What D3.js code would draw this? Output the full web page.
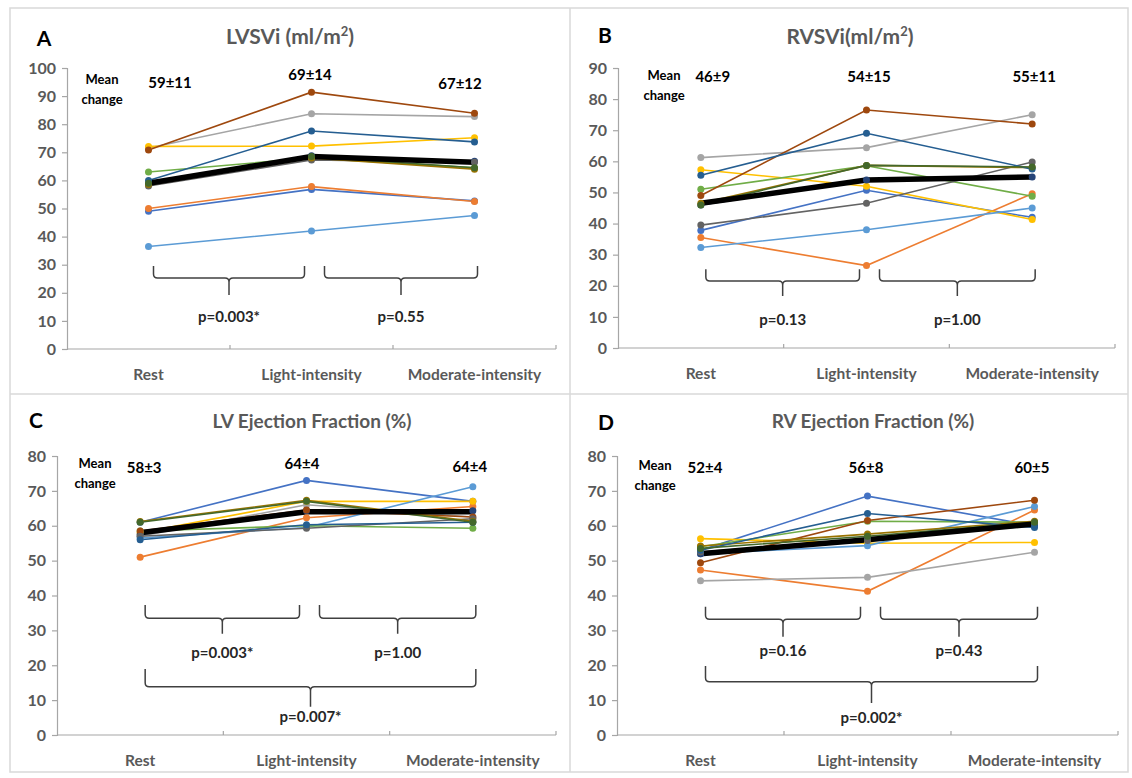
<!DOCTYPE html>
<html>
<head>
<meta charset="utf-8">
<script src="https://cdn.jsdelivr.net/npm/d3@7/dist/d3.min.js"></script>
<style>
  body { margin: 0; background: #fff; }
  svg { display: block; }
  text { font-family: Lato, "Open Sans", sans-serif; }
</style>
</head>
<body>
<div id="chart"></div>
<script>
// Categories and series colours (Excel default palette order)
const categories = ["Rest", "Light-intensity", "Moderate-intensity"];
const seriesColors = [
  "#4472C4", "#ED7D31", "#A5A5A5", "#FFC000", "#5B9BD5", "#70AD47",
  "#264478", "#9E480E", "#636363", "#997300", "#255E91", "#43682B",
];

// Panel A: LVSVi (ml/m2), one row per subject
const lvsviSubjects = [
  [49, 56.8, 52.7],
  [50, 57.8, 52.5],
  [71.5, 83.7, 82.7],
  [72.1, 72.2, 75.2],
  [36.5, 42, 47.5],
  [63, 68, 64.5],
  [58.5, 68.8, 66.8],
  [70.8, 91.4, 83.9],
  [58, 67.3, 66.5],
  [58.5, 68, 64],
  [60, 77.6, 73.7],
  [59, 68.5, 64.5],
];
const lvsviMean = [59, 68.5, 66.5];
const lvsviMeanLabels = ["59±11", "69±14", "67±12"];
const lvsviPValues = ["p=0.003*", "p=0.55"];

// Panel B: RVSVi (ml/m2)
const rvsviSubjects = [
  [37.8, 50.7, 42],
  [35.5, 26.5, 49.6],
  [61.2, 64.4, 75],
  [57.3, 52, 41.3],
  [32.3, 38, 45],
  [51, 58.6, 48.8],
  [46, 54, 55],
  [49, 76.5, 72],
  [39.5, 46.5, 59.8],
  [46.5, 58.7, 58],
  [55.5, 69, 57.5],
  [46, 58.7, 58.2],
];
const rvsviMean = [46.5, 54, 55];
const rvsviMeanLabels = ["46±9", "54±15", "55±11"];
const rvsviPValues = ["p=0.13", "p=1.00"];

// Panel C: LV Ejection Fraction (%)
const lvefSubjects = [
  [61, 73, 67],
  [51, 62.3, 65.5],
  [57, 66, 62.5],
  [58, 67, 67],
  [56.5, 59.5, 71.2],
  [58.5, 60, 59.3],
  [57.5, 64.3, 64.3],
  [58.5, 64.5, 62.5],
  [57, 59.3, 62],
  [61.2, 67.3, 61.3],
  [56, 60.3, 61],
  [61, 67, 61],
];
const lvefMean = [58, 64, 64];
const lvefMeanLabels = ["58±3", "64±4", "64±4"];
const lvefPValues = ["p=0.003*", "p=1.00", "p=0.007*"];

// Panel D: RV Ejection Fraction (%)
const rvefSubjects = [
  [53, 68.5, 60],
  [47.3, 41.2, 64.5],
  [44.2, 45.2, 52.4],
  [56.3, 55, 55.2],
  [52, 54.3, 65.5],
  [54, 61.3, 61],
  [52, 56.4, 60],
  [49.4, 61.5, 67.3],
  [52.5, 55.8, 61],
  [54.2, 57.6, 61.3],
  [53, 63.5, 59.5],
  [53.5, 57, 61],
];
const rvefMean = [52, 56, 60.5];
const rvefMeanLabels = ["52±4", "56±8", "60±5"];
const rvefPValues = ["p=0.16", "p=0.43", "p=0.002*"];

const width = 1132;
const height = 778;
const axisColor = "#A6A6A6";
const labelColor = "#595959";

const svg = d3
  .select("#chart")
  .append("svg")
  .attr("width", width)
  .attr("height", height);

// Panel frames
const frame = svg.append("g").attr("fill", "none").attr("stroke", "#D9D9D9").attr("stroke-width", 1.5);
frame.append("rect").attr("x", 10).attr("y", 8).attr("width", 1118).attr("height", 764);
frame.append("line").attr("x1", 570).attr("x2", 570).attr("y1", 8).attr("y2", 772);
frame.append("line").attr("x1", 10).attr("x2", 1128).attr("y1", 394).attr("y2", 394);

function bracketPath(x0, x1, yTop, yH, yNub) {
  const xm = (x0 + x1) / 2;
  const r = 4;
  return (
    `M${x0},${yTop} L${x0},${yH - r} Q${x0},${yH} ${x0 + r},${yH} ` +
    `L${xm - r},${yH} Q${xm},${yH} ${xm},${yH + r} L${xm},${yNub} ` +
    `M${xm},${yH + r} Q${xm},${yH} ${xm + r},${yH} ` +
    `L${x1 - r},${yH} Q${x1},${yH} ${x1},${yH - r} L${x1},${yTop}`
  );
}

function drawPanel(cfg) {
  const g = svg.append("g");

  const x = d3.scaleBand().domain(categories).range([cfg.left, cfg.right]);
  const y = d3.scaleLinear().domain([0, cfg.yMax]).range([cfg.bottom, cfg.top]);
  const cx = (i) => x(categories[i]) + x.bandwidth() / 2;

  // Y axis
  const yAxis = g
    .append("g")
    .attr("transform", `translate(${cfg.left},0)`)
    .call(d3.axisLeft(y).tickValues(d3.range(0, cfg.yMax + 1, 10)).tickSize(5).tickPadding(6));
  yAxis.select(".domain").attr("stroke", axisColor).attr("stroke-width", 1.2);
  yAxis.selectAll(".tick line").attr("stroke", axisColor).attr("stroke-width", 1.2);
  yAxis
    .selectAll(".tick text")
    .attr("fill", labelColor)
    .style("font-size", "16px")
    .style("font-weight", "bold")
    .style("font-family", "Lato, sans-serif");

  // X axis: baseline with inner ticks at category boundaries
  g.append("line")
    .attr("x1", cfg.left).attr("x2", cfg.right)
    .attr("y1", y(0)).attr("y2", y(0))
    .attr("stroke", axisColor).attr("stroke-width", 1.2);
  g.selectAll("line.xtick")
    .data(categories)
    .join("line")
    .attr("class", "xtick")
    .attr("x1", (d) => x(d) + x.bandwidth())
    .attr("x2", (d) => x(d) + x.bandwidth())
    .attr("y1", y(0))
    .attr("y2", y(0) - 4)
    .attr("stroke", axisColor).attr("stroke-width", 1.2);
  g.selectAll("text.xlabel")
    .data(categories)
    .join("text")
    .attr("class", "xlabel")
    .attr("x", (d) => x(d) + x.bandwidth() / 2)
    .attr("y", y(0) + 31)
    .attr("text-anchor", "middle")
    .attr("fill", labelColor)
    .style("font-size", "15.5px")
    .style("font-weight", "bold")
    .text((d) => d);

  // Lines
  const line = d3
    .line()
    .x((d, i) => cx(i))
    .y((d) => y(d));
  g.selectAll("path.subject")
    .data(cfg.subjects)
    .join("path")
    .attr("class", "subject")
    .attr("d", (d) => line(d))
    .attr("fill", "none")
    .attr("stroke", (d, i) => seriesColors[i])
    .attr("stroke-width", 1.6);

  g.append("path")
    .attr("d", line(cfg.mean))
    .attr("fill", "none")
    .attr("stroke", "#000")
    .attr("stroke-width", 5.5)
    .attr("stroke-linejoin", "round");

  // Markers
  cfg.subjects.forEach((s, si) => {
    g.selectAll(null)
      .data(s)
      .join("circle")
      .attr("cx", (d, i) => cx(i))
      .attr("cy", (d) => y(d))
      .attr("r", 3.5)
      .attr("fill", seriesColors[si]);
  });

  // Title and panel letter
  const title = g
    .append("text")
    .attr("x", cfg.titleX)
    .attr("y", cfg.titleY)
    .attr("text-anchor", "middle")
    .attr("fill", labelColor)
    .style("font-size", cfg.titleSize + "px")
    .style("font-weight", "bold");
  title.append("tspan").text(cfg.title);
  if (cfg.sup) {
    title.append("tspan").attr("dy", -8).style("font-size", "13px").text(cfg.sup);
    title.append("tspan").attr("dy", 8).text(")");
  }
  g.append("text")
    .attr("x", cfg.letterX)
    .attr("y", cfg.letterY)
    .attr("text-anchor", "middle")
    .attr("fill", "#000")
    .style("font-size", "21px")
    .style("font-weight", "bold")
    .text(cfg.letter);

  // "Mean change" and mean ± SD labels
  const mc = g.append("g").attr("fill", "#000").style("font-weight", "bold");
  mc.append("text").attr("x", cfg.meanTextX).attr("y", cfg.meanTextY)
    .attr("text-anchor", "middle").style("font-size", "13px").text("Mean");
  mc.append("text").attr("x", cfg.meanTextX).attr("y", cfg.meanTextY + 20)
    .attr("text-anchor", "middle").style("font-size", "13px").text("change");
  mc.selectAll("text.meanLabel")
    .data(cfg.meanLabels)
    .join("text")
    .attr("class", "meanLabel")
    .attr("x", (d, i) => cx(i) + cfg.meanLabelDx[i])
    .attr("y", (d, i) => cfg.meanLabelY[i])
    .attr("text-anchor", "middle")
    .style("font-size", "15px")
    .text((d) => d);

  // Brackets with p-values
  cfg.brackets.forEach((b, bi) => {
    const x0 = cx(b.from) + (b.from === 0 ? 5 : 13);
    const x1 = cx(b.to) + (b.to === 2 ? 3 : -7);
    g.append("path")
      .attr("d", bracketPath(x0, x1, y(b.top), y(b.mid), y(b.nub)))
      .attr("fill", "none")
      .attr("stroke", "#404040")
      .attr("stroke-width", 1.5);
    g.append("text")
      .attr("x", (x0 + x1) / 2)
      .attr("y", y(b.label))
      .attr("text-anchor", "middle")
      .attr("fill", "#262626")
      .style("font-size", "15px")
      .style("font-weight", "bold")
      .text(cfg.pValues[bi]);
  });
}

drawPanel({
  letter: "A", letterX: 44, letterY: 46,
  title: "LVSVi (ml/m", sup: "2", titleX: 290, titleY: 44, titleSize: 21,
  left: 67, right: 556, top: 68, bottom: 349, yMax: 100,
  subjects: lvsviSubjects, mean: lvsviMean,
  meanLabels: lvsviMeanLabels, meanLabelDx: [21.5, -1.5, -14.5], meanLabelY: [88, 80, 89],
  meanTextX: 102, meanTextY: 84,
  pValues: lvsviPValues,
  brackets: [
    { from: 0, to: 1, top: 29.5, mid: 25.3, nub: 19.2, label: 9.6 },
    { from: 1, to: 2, top: 29.5, mid: 25.3, nub: 19.2, label: 9.6 },
  ],
});

drawPanel({
  letter: "B", letterX: 605, letterY: 43,
  title: "RVSVi(ml/m", sup: "2", titleX: 850, titleY: 44, titleSize: 21,
  left: 618, right: 1115, top: 68, bottom: 348, yMax: 90,
  subjects: rvsviSubjects, mean: rvsviMean,
  meanLabels: rvsviMeanLabels, meanLabelDx: [12, 2.5, 2], meanLabelY: [82, 82, 82],
  meanTextX: 664, meanTextY: 80,
  pValues: rvsviPValues,
  brackets: [
    { from: 0, to: 1, top: 25.3, mid: 21.5, nub: 16.7, label: 7.4 },
    { from: 1, to: 2, top: 25.3, mid: 21.5, nub: 16.7, label: 7.4 },
  ],
});

drawPanel({
  letter: "C", letterX: 36, letterY: 428,
  title: "LV Ejection Fraction (%)", titleX: 312, titleY: 428, titleSize: 19,
  left: 57, right: 556, top: 456, bottom: 735, yMax: 80,
  subjects: lvefSubjects, mean: lvefMean,
  meanLabels: lvefMeanLabels, meanLabelDx: [4, -4.5, -3], meanLabelY: [473, 469, 472],
  meanTextX: 95, meanTextY: 468,
  pValues: lvefPValues,
  brackets: [
    { from: 0, to: 1, top: 37.3, mid: 33.5, nub: 29, label: 22 },
    { from: 1, to: 2, top: 37.3, mid: 33.5, nub: 29, label: 22 },
    { from: 0, to: 2, top: 18.9, mid: 13.8, nub: 8.1, label: 3.7 },
  ],
});

drawPanel({
  letter: "D", letterX: 606, letterY: 430,
  title: "RV Ejection Fraction (%)", titleX: 873, titleY: 428, titleSize: 19,
  left: 617, right: 1118, top: 456, bottom: 735, yMax: 80,
  subjects: rvefSubjects, mean: rvefMean,
  meanLabels: rvefMeanLabels, meanLabelDx: [4.5, -1.5, -2.5], meanLabelY: [473, 473, 473],
  meanTextX: 655, meanTextY: 470,
  pValues: rvefPValues,
  brackets: [
    { from: 0, to: 1, top: 36.8, mid: 33.2, nub: 28.2, label: 22.7 },
    { from: 1, to: 2, top: 36.8, mid: 33.2, nub: 28.2, label: 22.7 },
    { from: 0, to: 2, top: 19.8, mid: 15.3, nub: 9.2, label: 3.4 },
  ],
});
</script>
</body>
</html>
